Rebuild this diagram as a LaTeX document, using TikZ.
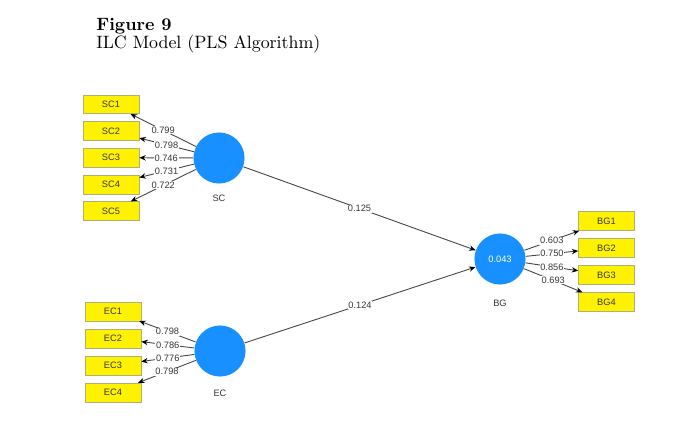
\documentclass[tikz,border=0pt]{standalone}
\usepackage{fontspec}
\usepackage{tikz}
\usetikzlibrary{arrows.meta}
\newfontfamily\plsfont{Liberation Sans}
\definecolor{plsblue}{RGB}{24,144,255}
\definecolor{plsline}{RGB}{70,70,70}
\definecolor{plstext}{RGB}{55,55,55}
\definecolor{plsedge}{RGB}{175,175,120}

\tikzset{
    latent/.style={circle, fill=plsblue, minimum size=28.6pt, inner sep=0pt, text=white, font=\plsfont\fontsize{5.2}{6}\selectfont},
    indic/.style={rectangle, fill=yellow, draw=plsedge, line width=0.3pt, minimum width=31.4pt, minimum height=10.6pt, inner sep=0pt, text=plstext, font=\plsfont\fontsize{5.2}{6}\selectfont},
    lvname/.style={text=plstext, font=\plsfont\fontsize{5.2}{6}\selectfont},
    load/.style={plsline, line width=0.5pt, -{Stealth[length=3.6pt, width=3pt, black]}},
    coef/.style={fill=white, inner sep=0.4pt, text=plstext, font=\plsfont\fontsize{5.2}{6}\selectfont}
}

\begin{document}
\begin{tikzpicture}[x=0.56pt, y=-0.56pt]
            \useasboundingbox (0,0) rectangle (697,435);

            \node[anchor=base west, inner sep=0pt, font=\fontsize{10}{12}\selectfont\bfseries] (fig) at (96,30) {Figure 9};
            \node[anchor=base west, inner sep=0pt, font=\fontsize{10}{12}\selectfont] (cap) at (96,48) {ILC Model (PLS Algorithm)};

            \node[latent] (SC) at (219,158) {};
            \node[latent] (EC) at (220,351) {};
            \node[latent] (BG) at (500,259) {0.043};

            \node[lvname] (SClab) at (219,198) {SC};
            \node[lvname] (EClab) at (220,393) {EC};
            \node[lvname] (BGlab) at (500,303) {BG};

            \node[indic] (SC1) at (111,104.3) {SC1};
            \node[indic] (SC2) at (111,131) {SC2};
            \node[indic] (SC3) at (111,157.7) {SC3};
            \node[indic] (SC4) at (111,184.4) {SC4};
            \node[indic] (SC5) at (111,211.1) {SC5};

            \node[indic] (EC1) at (113,311.3) {EC1};
            \node[indic] (EC2) at (113,338.3) {EC2};
            \node[indic] (EC3) at (113,365.3) {EC3};
            \node[indic] (EC4) at (113,392.5) {EC4};

            \node[indic] (BG1) at (606.5,221) {BG1};
            \node[indic] (BG2) at (606.5,248) {BG2};
            \node[indic] (BG3) at (606.5,275) {BG3};
            \node[indic] (BG4) at (606.5,302) {BG4};

            \draw[load] (SC) -- node[coef] {0.799} (SC1);
            \draw[load] (SC) -- node[coef] {0.798} (SC2);
            \draw[load] (SC) -- node[coef] {0.746} (SC3);
            \draw[load] (SC) -- node[coef] {0.731} (SC4);
            \draw[load] (SC) -- node[coef] {0.722} (SC5);

            \draw[load] (EC) -- node[coef] {0.798} (EC1);
            \draw[load] (EC) -- node[coef] {0.786} (EC2);
            \draw[load] (EC) -- node[coef] {0.776} (EC3);
            \draw[load] (EC) -- node[coef] {0.798} (EC4);

            \draw[load] (BG) -- node[coef] {0.603} (BG1);
            \draw[load] (BG) -- node[coef] {0.750} (BG2);
            \draw[load] (BG) -- node[coef] {0.856} (BG3);
            \draw[load] (BG) -- node[coef] {0.693} (BG4);

            \draw[load] (SC) -- node[coef] {0.125} (BG);
            \draw[load] (EC) -- node[coef] {0.124} (BG);

        \end{tikzpicture}
\end{document}
